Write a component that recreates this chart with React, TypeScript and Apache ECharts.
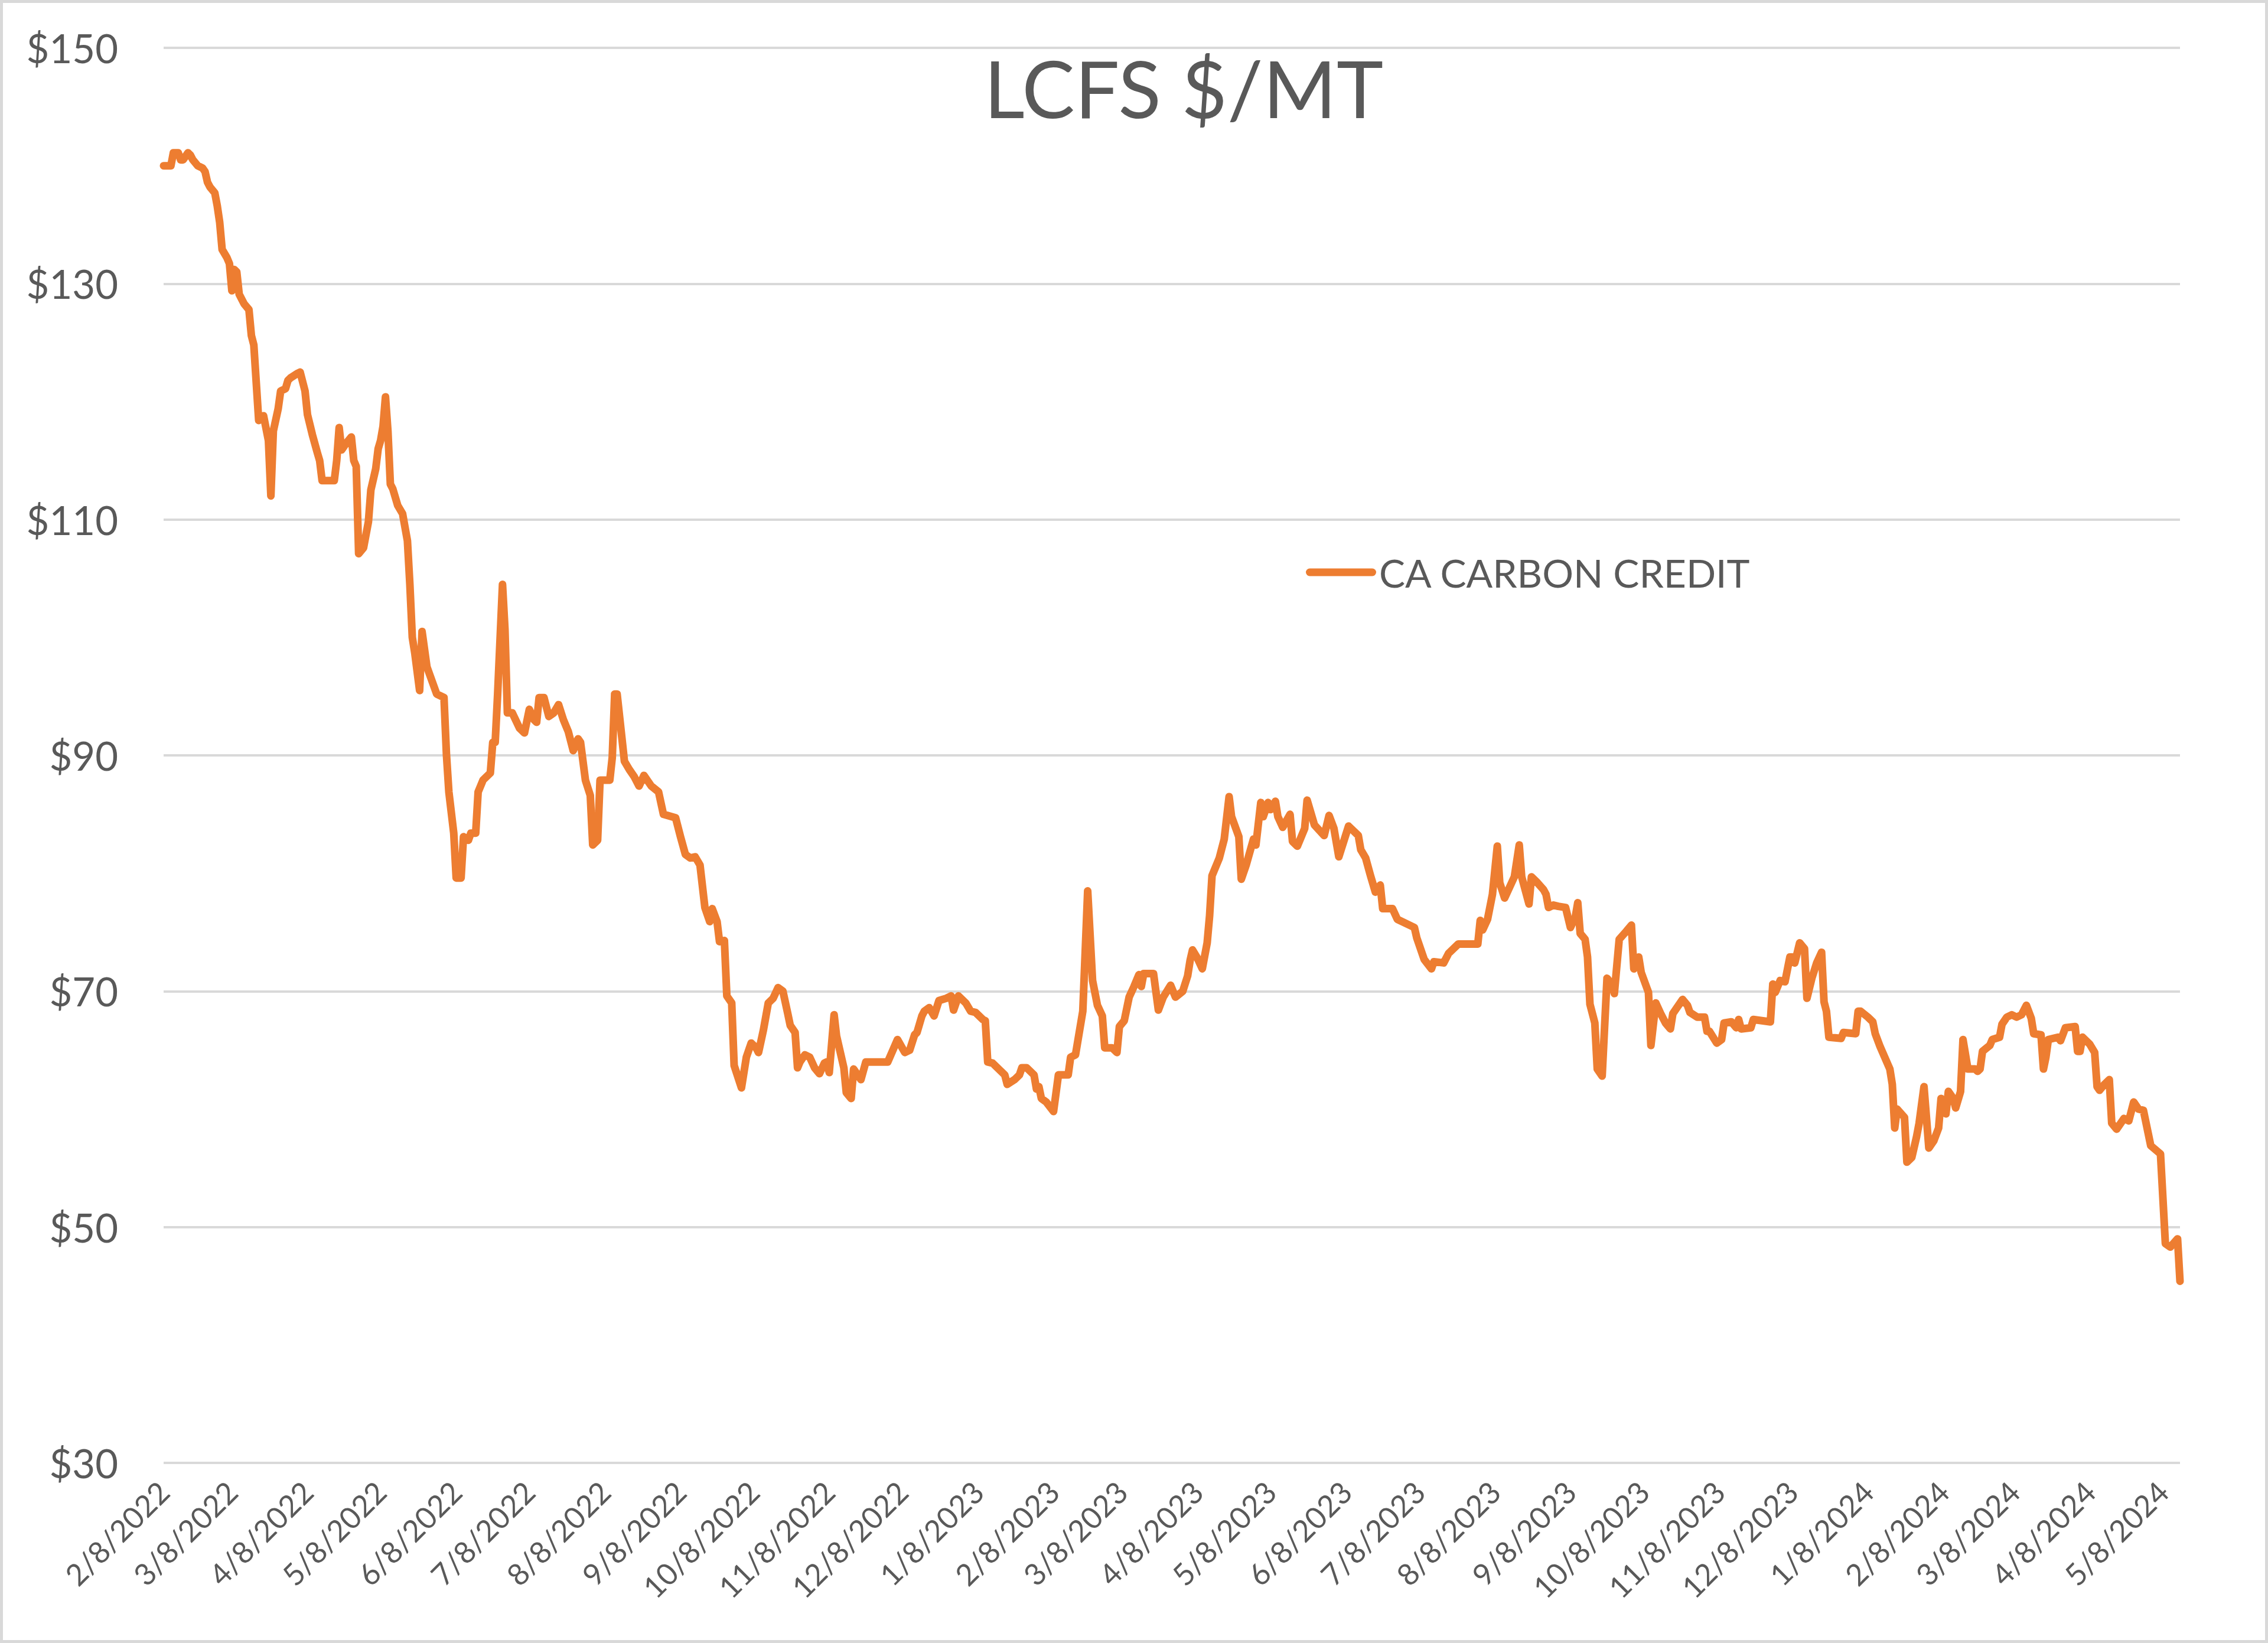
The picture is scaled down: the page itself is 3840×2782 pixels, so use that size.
import React, { useEffect, useRef } from "react";
import * as echarts from "echarts";

const TITLE = "LCFS $/MT";
const SERIES_NAME = "CA CARBON CREDIT";
const START_DATE = "2/8/2022";
const tickLabels = [
  "2/8/2022", "3/8/2022", "4/8/2022", "5/8/2022", "6/8/2022", "7/8/2022", "8/8/2022",
  "9/8/2022", "10/8/2022", "11/8/2022", "12/8/2022", "1/8/2023", "2/8/2023", "3/8/2023",
  "4/8/2023", "5/8/2023", "6/8/2023", "7/8/2023", "8/8/2023", "9/8/2023", "10/8/2023",
  "11/8/2023", "12/8/2023", "1/8/2024", "2/8/2024", "3/8/2024", "4/8/2024", "5/8/2024",
];
const yTicks = [30, 50, 70, 90, 110, 130, 150];

// days since 2/8/2022 and price ($/MT)
const days2022 = [
  0, 3, 4, 6, 7, 8, 10, 11, 12, 14, 16, 17, 18, 19, 21, 22, 23, 24, 26, 27, 28, 29, 30, 31, 33, 35, 36, 37, 38, 39,
  40, 41, 43, 44, 45, 47, 48, 50, 51, 52, 55, 56, 58, 59, 61, 63, 64, 65, 70, 71, 72, 73, 75, 77, 78, 79, 80, 82, 84, 85,
  87, 88, 89, 90, 91, 92, 93, 94, 96, 98, 100, 101, 102, 103, 105, 106, 108, 112, 115, 116, 117, 119, 120, 122, 123, 125, 126, 128, 129, 131,
  134, 135, 136, 137, 139, 140, 141, 143, 146, 148, 150, 152, 153, 154, 156, 158, 160, 162, 164, 166, 168, 170, 171, 173, 175, 176, 178, 179, 183, 184,
  185, 186, 189, 191, 193, 195, 197, 200, 203, 205, 210, 212, 214, 216, 218, 220, 222, 224, 225, 227, 228, 230, 231, 233, 234, 237, 239, 241, 243, 244,
  246, 248, 250, 252, 254, 256, 257, 259, 260, 261, 263, 265, 267, 269, 271, 272, 273, 275, 276, 279, 280, 282, 283, 286, 288, 297, 301, 304, 306, 308,
  309, 311, 312, 314, 316, 318, 321, 323, 324, 326,
];
const prices2022 = [
  140.0, 140.0, 141.1, 141.1, 140.5, 140.5, 141.1, 140.9, 140.5, 140.0, 139.8, 139.5, 138.6, 138.2, 137.7, 136.6, 135.2, 132.9, 132.2, 131.7, 129.4, 131.2, 131.0, 129.1, 128.3, 127.8, 125.6, 124.8, 121.6, 118.4,
  118.7, 118.8, 116.7, 112.0, 117.5, 119.4, 120.9, 121.1, 121.8, 122.0, 122.4, 122.5, 120.9, 118.9, 117.2, 115.7, 115.0, 113.3, 113.3, 115.0, 117.8, 115.9, 116.5, 117.0, 115.0, 114.5, 107.1, 107.6, 109.8, 112.5,
  114.3, 116.0, 116.7, 117.9, 120.4, 117.5, 113.0, 112.6, 111.2, 110.5, 108.2, 104.5, 100.0, 98.7, 95.5, 100.5, 97.5, 95.2, 94.9, 90.1, 86.9, 83.4, 79.6, 79.6, 83.1, 82.8, 83.4, 83.4, 86.9, 87.9,
  88.5, 91.1, 91.1, 95.2, 104.5, 100.7, 93.6, 93.6, 92.3, 91.9, 93.9, 93.0, 92.8, 94.9, 94.9, 93.3, 93.6, 94.3, 93.0, 92.0, 90.4, 91.4, 91.1, 87.9, 86.6, 82.4, 82.8, 87.9, 87.9, 89.8,
  95.2, 95.2, 89.5, 88.8, 88.2, 87.4, 88.3, 87.4, 86.9, 85.0, 84.7, 83.1, 81.6, 81.3, 81.4, 80.7, 77.1, 75.9, 77.0, 75.9, 74.2, 74.3, 69.6, 69.0, 63.7, 61.8, 64.4, 65.6, 65.2, 64.8,
  66.7, 69.0, 69.4, 70.3, 70.0, 68.1, 67.1, 66.5, 63.5, 64.0, 64.6, 64.4, 63.5, 63.0, 63.9, 64.0, 63.1, 68.0, 66.2, 63.5, 61.4, 60.9, 63.4, 62.5, 64.0, 64.0, 65.9, 64.8, 65.0, 66.3,
  66.5, 67.9, 68.3, 68.6, 67.9, 69.2, 69.4, 69.6, 68.4, 69.6,
];
const days2023 = [
  329, 331, 333, 336, 337, 338, 340, 345, 346, 349, 351, 352, 354, 357, 358, 359, 360, 362, 365, 367, 371, 372, 374, 377, 379, 381, 383, 385, 386, 389,
  391, 392, 394, 396, 398, 400, 401, 402, 406, 408, 410, 413, 415, 418, 420, 421, 422, 424, 426, 428, 429, 430, 433, 435, 437, 438, 441, 442, 444, 447,
  448, 450, 451, 453, 454, 456, 457, 459, 462, 463, 465, 468, 469, 472, 476, 478, 480, 482, 486, 490, 491, 493, 495, 497, 499, 500, 504, 506, 513, 514,
  517, 520, 521, 525, 527, 531, 539, 540, 541, 543, 545, 547, 548, 550, 554, 556, 557, 560, 561, 563, 566, 567, 568, 570, 572, 575, 577, 579, 580, 581,
  583, 584, 585, 587, 588, 590, 592, 594, 595, 597, 600, 602, 603, 605, 606, 609, 610, 612, 614, 616, 618, 619, 623, 625, 626, 629, 632, 633, 634, 637,
  639, 640, 643, 645, 646, 647, 651, 652, 659, 660, 661, 663, 665, 667, 668, 669, 671, 673, 674, 676, 678, 680, 681, 682, 683, 688, 689,
];
const prices2023 = [
  69.0, 68.3, 68.2, 67.6, 67.5, 64.0, 63.9, 62.9, 62.1, 62.5, 62.9, 63.5, 63.5, 62.9, 61.7, 61.9, 60.9, 60.6, 59.8, 62.9, 62.9, 64.4, 64.6, 68.3, 78.5, 70.9, 68.8, 67.9, 65.2, 65.2,
  64.8, 67.0, 67.5, 69.5, 70.4, 71.4, 70.4, 71.5, 71.5, 68.4, 69.5, 70.5, 69.5, 70.0, 71.3, 72.6, 73.5, 72.8, 71.9, 74.1, 76.4, 79.8, 81.3, 82.9, 86.5, 84.8, 83.1, 79.5, 80.7, 82.9,
  82.4, 86.0, 84.8, 86.0, 85.4, 86.1, 84.8, 83.9, 85.0, 82.7, 82.3, 83.8, 86.2, 84.1, 83.2, 84.9, 83.8, 81.4, 84.0, 83.2, 82.0, 81.3, 79.8, 78.4, 79.0, 77.0, 77.0, 76.1, 75.4, 74.5,
  72.7, 71.9, 72.5, 72.4, 73.2, 74.0, 74.0, 76.0, 75.2, 76.1, 78.2, 82.3, 79.2, 77.9, 79.7, 82.4, 79.7, 77.4, 79.7, 79.3, 78.6, 78.2, 77.1, 77.3, 77.2, 77.1, 75.4, 76.3, 77.5, 74.9,
  74.4, 72.9, 68.9, 67.3, 63.4, 62.8, 71.1, 70.6, 69.8, 74.4, 75.1, 75.6, 71.9, 72.9, 71.6, 69.9, 65.4, 69.0, 68.1, 67.3, 66.8, 68.1, 69.3, 68.8, 68.2, 67.8, 67.8, 66.6, 66.6, 65.6,
  65.9, 67.3, 67.4, 66.9, 67.6, 66.8, 66.9, 67.6, 67.4, 70.6, 69.9, 70.9, 70.8, 72.9, 72.9, 72.4, 74.1, 73.6, 69.4, 71.1, 72.4, 73.3, 69.1, 68.3, 66.1, 66.0, 66.5,
];
const days2024 = [
  694, 695, 696, 699, 701, 702, 704, 708, 709, 710, 711, 714, 715, 717, 719, 720, 722, 724, 726, 728, 729, 731, 732, 734, 735, 737, 738, 740, 743, 744,
  745, 746, 749, 750, 753, 754, 756, 758, 760, 762, 764, 766, 767, 770, 771, 772, 773, 777, 778, 780, 784, 785, 786, 787, 790, 792, 793, 794, 796, 798,
  799, 801, 804, 806, 808, 810, 812, 814, 815, 819, 821, 823, 826, 827,
];
const prices2024 = [
  66.4, 68.3, 68.3, 67.8, 67.4, 66.4, 65.3, 63.4, 62.1, 58.4, 60.0, 59.3, 55.5, 55.9, 57.7, 58.8, 61.9, 56.7, 57.3, 58.4, 60.9, 59.6, 61.5, 60.9, 60.1, 61.5, 65.9, 63.4, 63.4, 63.2,
  63.4, 64.9, 65.4, 65.9, 66.1, 67.2, 67.8, 68.0, 67.8, 68.0, 68.8, 67.7, 66.4, 66.3, 63.4, 64.4, 65.9, 66.1, 65.8, 66.9, 67.0, 64.9, 64.9, 66.1, 65.5, 64.8, 61.9, 61.6, 62.1, 62.5,
  58.8, 58.3, 59.2, 59.0, 60.6, 60.0, 59.9, 57.9, 56.9, 56.2, 48.6, 48.3, 49.0, 45.4,
];

const TEXT = "#595959";
const ORANGE = "#ED7D31";
const GRID = "#D9D9D9";
const FONT = "Lato, Carlito, Calibri, 'Noto Sans', sans-serif";
const LEGEND_ICON =
  "path://M6.5,0 L112.5,0 A6.5,6.5 0 0 1 112.5,13 L6.5,13 A6.5,6.5 0 0 1 6.5,0 Z";

function toUTC(s: string): number {
  const [m, d, y] = s.split("/").map(Number);
  return Date.UTC(y, m - 1, d);
}

export default function App() {
  const ref = useRef<HTMLDivElement>(null);
  useEffect(() => {
    if (!ref.current) return;
    const chart = echarts.init(ref.current, undefined, { renderer: "svg" });
    const t0 = toUTC(START_DATE);
    const tickDays = tickLabels.map((l) => Math.round((toUTC(l) - t0) / 86400000));
    const labelByDay: Record<number, string> = {};
    tickDays.forEach((d, i) => (labelByDay[d] = tickLabels[i]));
    const allDays = [...days2022, ...days2023, ...days2024];
    const allPrices = [...prices2022, ...prices2023, ...prices2024];
    const data = allDays.map((d, i) => [d, allPrices[i]]);
    const lastDay = allDays[allDays.length - 1];

    chart.setOption({
      animation: false,
      backgroundColor: "#ffffff",
      textStyle: { fontFamily: FONT },
      grid: { left: 277, right: 149, top: 81, bottom: 305 },
      legend: {
        left: 2206,
        top: 931,
        itemWidth: 119,
        itemHeight: 13,
        itemGap: 0,
        data: [{ name: SERIES_NAME, icon: LEGEND_ICON }],
        itemStyle: { color: ORANGE, borderWidth: 0 },
        lineStyle: { width: 0 },
        textStyle: { fontSize: 66, color: TEXT, fontFamily: FONT },
      },
      xAxis: {
        type: "value",
        min: 0,
        max: lastDay,
        axisLine: { show: false },
        axisTick: { show: false },
        splitLine: { show: false },
        axisLabel: {
          customValues: tickDays,
          rotate: 45,
          margin: 40,
          fontSize: 51,
          color: TEXT,
          fontFamily: FONT,
          formatter: (v: number) => labelByDay[Math.round(v)] ?? "",
        },
      },
      yAxis: {
        type: "value",
        min: yTicks[0],
        max: yTicks[yTicks.length - 1],
        interval: yTicks[1] - yTicks[0],
        axisLine: { show: false },
        axisTick: { show: false },
        splitLine: { show: true, lineStyle: { color: GRID, width: 4 } },
        axisLabel: {
          margin: 77,
          fontSize: 67,
          color: TEXT,
          fontFamily: FONT,
          formatter: (v: number) => "$" + v,
        },
      },
      series: [
        {
          name: SERIES_NAME,
          type: "line",
          data,
          symbol: "none",
          lineStyle: { color: ORANGE, width: 13, cap: "round", join: "round" },
          itemStyle: { color: ORANGE },
        },
      ],
      graphic: [
        {
          type: "rect",
          silent: true,
          shape: { x: 2.5, y: 2.5, width: 3835, height: 2777 },
          style: { fill: "none", stroke: GRID, lineWidth: 5 },
        },
        {
          type: "text",
          x: 2004,
          y: 148,
          style: {
            text: TITLE,
            fill: TEXT,
            fontSize: 134,
            fontFamily: FONT,
            align: "center",
            verticalAlign: "middle",
          },
        },
      ],
    });
    return () => chart.dispose();
  }, []);
  return (
    <div
      ref={ref}
      style={{ position: "fixed", left: 0, top: 0, width: 3840, height: 2782, background: "#fff" }}
    />
  );
}
